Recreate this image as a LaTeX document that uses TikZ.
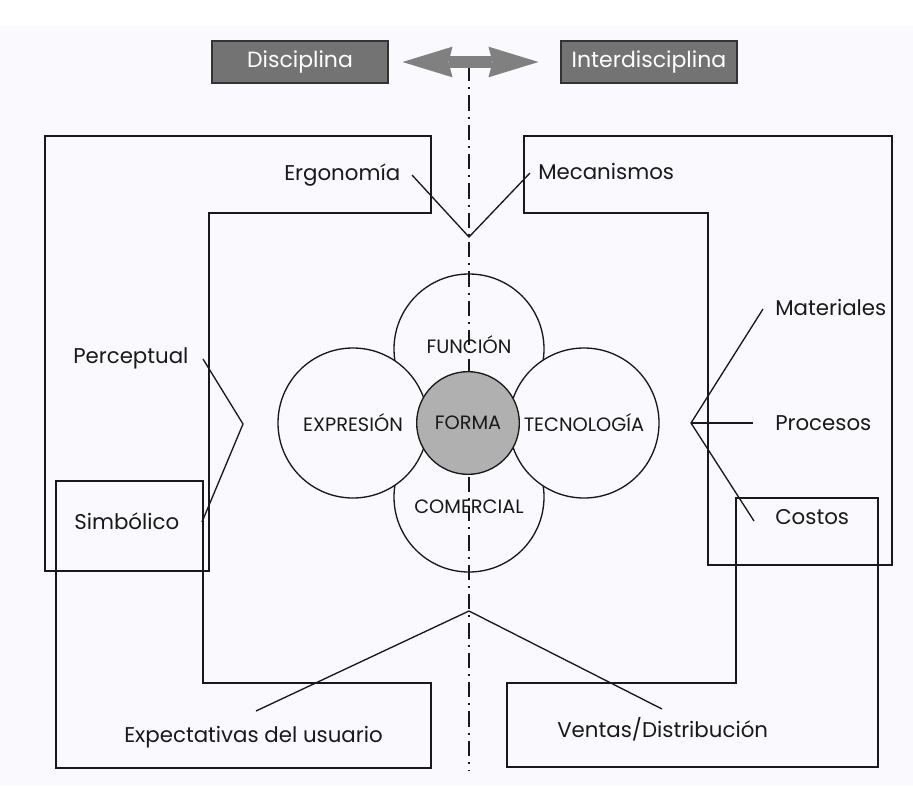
\documentclass[tikz,border=0pt]{standalone}
\usepackage{fontspec}
\setmainfont{Poppins}
\usetikzlibrary{arrows.meta}
\definecolor{bgcol}{RGB}{250,250,254}
\definecolor{inkcol}{RGB}{25,25,25}
\definecolor{boxgray}{RGB}{115,115,115}
\definecolor{arrowgray}{RGB}{128,128,128}
\definecolor{coregray}{RGB}{176,176,176}
\tikzset{
  frame/.style={draw=inkcol, line width=1.1pt},
  lead/.style={draw=inkcol, line width=1pt},
  lbl/.style={inner sep=0.75pt, text=inkcol, font=\fontsize{16}{18}\selectfont},
  petal/.style={circle, draw=inkcol, line width=1pt, fill=bgcol, minimum size=112.5pt, inner sep=0pt, text=inkcol, font=\fontsize{14.5}{16}\selectfont},
  core/.style={circle, draw=inkcol, line width=1pt, fill=coregray, minimum size=77pt, inner sep=0pt, text=inkcol, font=\fontsize{14.5}{16}\selectfont},
  headbox/.style={draw=black!80, line width=0.8pt, fill=boxgray, text=white, minimum width=132pt, minimum height=31.5pt, inner sep=0pt, font=\fontsize{16.5}{18}\selectfont},
  axis/.style={draw=inkcol, line width=1.6pt, dash pattern=on 11.5pt off 4.5pt on 1.5pt off 4.5pt},
  twoway/.style={draw=arrowgray, line width=9pt, {Stealth[length=37.5pt,width=23pt,inset=3pt,line width=0pt]}-{Stealth[length=37.5pt,width=23pt,inset=3pt,line width=0pt]}}
}
\begin{document}
\begin{tikzpicture}[x=0.75pt,y=0.75pt,yscale=-1,xscale=1]
\useasboundingbox (0,0) rectangle (913,785);
%Background
\fill[bgcol] (0,0) rectangle (913,785);
\fill[white] (0,0) rectangle (913,26);

%Shape: upper left frame
\draw[frame] (45,136) -- (431,136) -- (431,213) -- (209,213) -- (209,571) -- (45,571) -- cycle ;
%Shape: upper right frame
\draw[frame] (524,136) -- (892,136) -- (892,565) -- (708,565) -- (708,213) -- (524,213) -- cycle ;
%Shape: lower left frame
\draw[frame] (56,481) -- (203,481) -- (203,683) -- (431,683) -- (431,768) -- (56,768) -- cycle ;
%Shape: lower right frame
\draw[frame] (736,498) -- (878,498) -- (878,767) -- (507,767) -- (507,683) -- (736,683) -- cycle ;

%Circles top and bottom
\node[petal, text depth=7pt] (funcion) at (469,349) {FUNCIÓN};
\node[petal, text height=25pt] (comercial) at (469,497) {COMERCIAL};

%Dash-dot axis
\coordinate (axis-top) at (469,66);
\coordinate (axis-bot) at (469,771);
\draw[axis] (axis-top) -- (axis-bot);

%Circles left and right
\node[petal] (expresion) at (353,423) {EXPRESIÓN};
\node[petal] (tecnologia) at (584,423) {TECNOLOGÍA};
%Circle centre
\node[core] (forma) at (468,423) {FORMA};

%Joints on the axis and lead ends
\coordinate (top-join) at (469,237);
\coordinate (bot-join) at (469,611);
\coordinate (left-join) at (243,424);
\coordinate (right-join) at (691,423);
\coordinate (ergo-tip) at (412,175);
\coordinate (meca-tip) at (530,173);
\coordinate (perc-tip) at (203,359);
\coordinate (simb-tip) at (202,522);
\coordinate (mate-tip) at (763,309);
\coordinate (proc-tip) at (753,423);
\coordinate (cost-tip) at (754,521);
\coordinate (expe-tip) at (256,711);
\coordinate (vent-tip) at (662,709);

%Straight Lines
\draw[lead] (ergo-tip) -- (top-join) -- (meca-tip);
\draw[lead] (perc-tip) -- (left-join) -- (simb-tip);
\draw[lead] (mate-tip) -- (right-join) -- (cost-tip);
\draw[lead] (right-join) -- (proc-tip);
\draw[lead] (expe-tip) -- (bot-join) -- (vent-tip);

% Text Node
\node[lbl, anchor=base west] (ergo) at (283,180) {Ergonomía};
\node[lbl, anchor=base west] (meca) at (537,179) {Mecanismos};
\node[lbl, anchor=base west] (perc) at (72,363) {Perceptual};
\node[lbl, anchor=base west] (simb) at (73,529) {Simbólico};
\node[lbl, anchor=base west] (mate) at (774,315) {Materiales};
\node[lbl, anchor=base west] (proc) at (774,430) {Procesos};
\node[lbl, anchor=base west] (cost) at (774,524) {Costos};
\node[lbl, anchor=base west] (expe) at (123,742) {Expectativas del usuario};
\node[lbl, anchor=base west] (vent) at (556,737) {Ventas/Distribución};

%Header boxes and two-way arrow
\node[headbox] (disc) at (300,62) {Disciplina};
\node[headbox] (inter) at (649,62) {Interdisciplina};
\draw[twoway] ([xshift=10.5pt]disc.east) -- ([xshift=-16.5pt]inter.west);

\end{tikzpicture}
\end{document}
